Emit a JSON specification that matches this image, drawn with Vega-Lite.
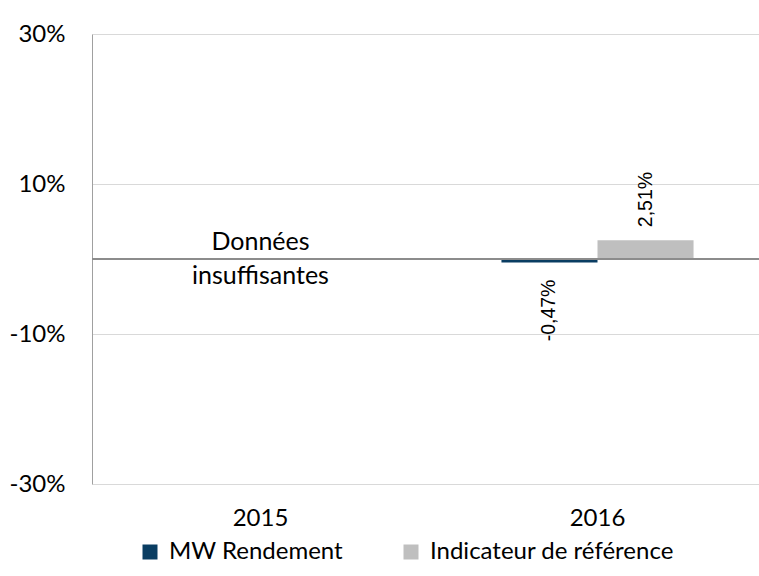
{
  "$schema": "https://vega.github.io/schema/vega-lite/v6.json",
  "width": 674,
  "height": 450,
  "autosize": {"type": "none"},
  "padding": {"left": 92, "top": 34, "right": 0, "bottom": 92},
  "background": "white",
  "config": {"view": {"stroke": null}},
  "datasets": {
    "bars": [
      {"year": "2016", "series": "MW Rendement", "value": -0.0047, "label": "-0,47%"},
      {"year": "2016", "series": "Indicateur de référence", "value": 0.0251, "label": "2,51%"}
    ],
    "notes": [
      {"year": "2015", "note": "Données\ninsuffisantes"}
    ]
  },
  "data": {"name": "bars"},
  "layer": [
    {
      "mark": {"type": "bar"},
      "encoding": {
        "x": {
          "field": "year", "type": "nominal", "title": null,
          "scale": {"domain": ["2015", "2016"], "paddingInner": 0.43, "paddingOuter": 0.215},
          "axis": {"domain": false, "ticks": false, "labelAngle": 0, "labelFont": "Lato", "labelFontSize": 24, "labelColor": "#000000", "labelPadding": 22, "grid": false}
        },
        "xOffset": {
          "field": "series", "type": "nominal",
          "scale": {"domain": ["MW Rendement", "Indicateur de référence"], "paddingInner": 0, "paddingOuter": 0}
        },
        "y": {
          "field": "value", "type": "quantitative", "title": null,
          "scale": {"domain": [-0.3, 0.3], "nice": false, "zero": false},
          "axis": {
            "values": [-0.3, -0.1, 0.1, 0.3],
            "labelExpr": "round(datum.value*100) + '%'",
            "grid": true, "gridColor": "#d9d9d9", "gridWidth": 1,
            "domain": true, "domainColor": "#a0a0a0", "domainWidth": 1,
            "ticks": false, "labelPadding": 27,
            "labelFont": "Lato", "labelFontSize": 24, "labelColor": "#000000"
          }
        },
        "color": {
          "field": "series", "type": "nominal",
          "scale": {"domain": ["MW Rendement", "Indicateur de référence"], "range": ["#0a3d62", "#bfbfbf"]},
          "legend": {
            "title": null, "orient": "none", "direction": "horizontal",
            "legendX": 46, "legendY": 506, "padding": 0,
            "symbolType": "square", "symbolSize": 225, "symbolStrokeWidth": 0,
            "labelFont": "Lato", "labelFontSize": 24, "labelColor": "#000000",
            "labelOffset": 7, "columnPadding": 56, "labelLimit": 400
          }
        }
      }
    },
    {
      "mark": {"type": "rule", "color": "#8c8c8c", "strokeWidth": 2},
      "encoding": {"y": {"datum": 0, "type": "quantitative"}}
    },
    {
      "transform": [{"filter": "datum.value > 0"}],
      "mark": {"type": "text", "angle": 270, "align": "left", "baseline": "middle", "dx": 13, "font": "Liberation Sans", "fontSize": 19.5, "color": "#000000"},
      "encoding": {
        "x": {"field": "year", "type": "nominal"},
        "xOffset": {"field": "series", "type": "nominal"},
        "y": {"field": "value", "type": "quantitative"},
        "text": {"field": "label"}
      }
    },
    {
      "transform": [{"filter": "datum.value < 0"}],
      "mark": {"type": "text", "angle": 270, "align": "right", "baseline": "middle", "dx": -17, "font": "Liberation Sans", "fontSize": 19.5, "color": "#000000"},
      "encoding": {
        "x": {"field": "year", "type": "nominal"},
        "xOffset": {"field": "series", "type": "nominal"},
        "y": {"field": "value", "type": "quantitative"},
        "text": {"field": "label"}
      }
    },
    {
      "data": {"name": "notes"},
      "mark": {"type": "text", "align": "center", "baseline": "middle", "lineBreak": "\n", "lineHeight": 34, "dy": -17, "font": "Lato", "fontSize": 25, "color": "#000000"},
      "encoding": {
        "x": {"field": "year", "type": "nominal"},
        "y": {"datum": 0, "type": "quantitative"},
        "text": {"field": "note"}
      }
    }
  ]
}
